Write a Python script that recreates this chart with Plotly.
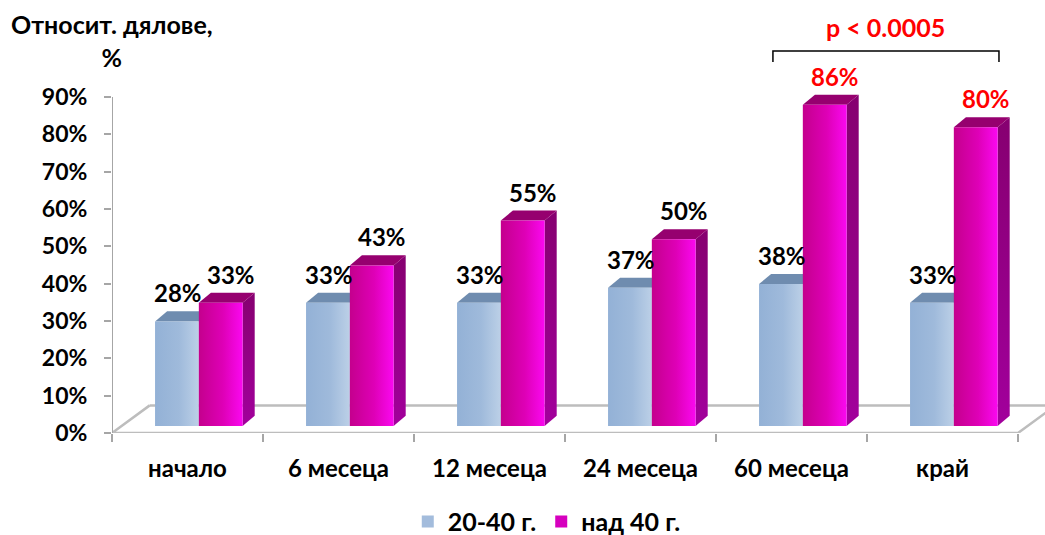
import plotly.graph_objects as go

# ---------------- data ----------------
categories = ["начало", "6 месеца", "12 месеца", "24 месеца", "60 месеца", "край"]
group_young = [28, 33, 33, 37, 38, 33]          # 20-40 г.
group_older = [33, 43, 55, 50, 86, 80]          # над 40 г.
series_names = ["20-40 г.", "над 40 г."]
red_label = [False, False, False, False, True, True]
y_tick_values = [0, 10, 20, 30, 40, 50, 60, 70, 80, 90]
y_tick_labels = [f"{v}%" for v in y_tick_values]
p_text = "p < 0.0005"
y_title = "Относит. дялове,<br>%"

# ---------------- geometry / style ----------------
FONT = "Lato"
PX_PER_PCT = 3.733
BASE = 1.9          # bar bases sit slightly into the floor depth
DX, DY = 0.08, 2.7  # bar depth offset (x units, %)
FLOOR_DX, FLOOR_DY = 0.25, 7.4
BAR_SPAN = {0: (-0.215, 0.075), 1: (0.075, 0.365)}
LABEL_DX = {0: -0.06, 1: 0.29}
n = len(categories)

front_scales = {
    0: [[0, "#93B1D6"], [0.55, "#9FBADB"], [1, "#BCD0E7"]],
    1: [[0, "#C4008D"], [0.55, "#DE00B6"], [1, "#FA08F0"]],
}
side_scales = {
    0: [[0, "#7E9CC0"], [1, "#6F8DB2"]],
    1: [[0, "#A2009C"], [1, "#860070"]],
}
top_colors = {0: "#6F8CAF", 1: "#96006F"}
legend_colors = {0: "#A3BCDC", 1: "#D600BE"}

fig = go.Figure()

# floor
x_left, x_right = -0.5, n - 0.5
fig.add_trace(go.Scatter(
    x=[x_left + FLOOR_DX, x_right + FLOOR_DX, None,
       x_left + FLOOR_DX, x_left, x_right, x_right + FLOOR_DX],
    y=[FLOOR_DY, FLOOR_DY, None, FLOOR_DY, 0, 0, FLOOR_DY],
    mode="lines", line=dict(color="#BDBDBD", width=2.5),
    hoverinfo="skip", showlegend=False))

series = [group_young, group_older]
for i in range(n):
    for s in (0, 1):
        v = series[s][i]
        x0 = i + BAR_SPAN[s][0]
        x1 = i + BAR_SPAN[s][1]
        b = BASE
        t = BASE + v
        # side face
        fig.add_trace(go.Scatter(
            x=[x1, x1 + DX, x1 + DX, x1, x1], y=[b, b + DY, t + DY, t, b],
            fill="toself", mode="lines", line=dict(width=0),
            fillgradient=dict(type="vertical", colorscale=side_scales[s]),
            hoverinfo="skip", showlegend=False))
        # top face
        fig.add_trace(go.Scatter(
            x=[x0, x1, x1 + DX, x0 + DX, x0], y=[t, t, t + DY, t + DY, t],
            fill="toself", mode="lines", line=dict(width=0),
            fillcolor=top_colors[s], hoverinfo="skip", showlegend=False))
        # front face
        fig.add_trace(go.Scatter(
            x=[x0, x1, x1, x0, x0], y=[b, b, t, t, b],
            fill="toself", mode="lines", line=dict(width=0),
            fillgradient=dict(type="horizontal", colorscale=front_scales[s]),
            hoverinfo="skip", showlegend=False))
        fig.add_annotation(
            x=i + LABEL_DX[s], y=t + DY, yanchor="bottom", yshift=2,
            text=f"{v}%", showarrow=False,
            font=dict(family=FONT, size=24, weight="bold",
                      color="#FF0000" if (s == 1 and red_label[i]) else "#000000"))

# legend entries
for s in (0, 1):
    fig.add_trace(go.Scatter(
        x=[None], y=[None], mode="markers", name=series_names[s],
        marker=dict(symbol="square", size=16, color=legend_colors[s])))

# y axis line (0..90)
fig.add_shape(type="line", xref="x", yref="y", x0=x_left, x1=x_left,
              y0=0, y1=y_tick_values[-1], line=dict(color="#A6A6A6", width=2))

# significance bracket
bx0, bx1 = 4 - 0.123, 5 + 0.374
fig.add_shape(type="path", xref="x", yref="y",
              path=f"M{bx0},99.4 L{bx0},102.3 L{bx1},102.3 L{bx1},99.4",
              line=dict(color="#000000", width=1.5))
fig.add_annotation(x=(bx0 + bx1) / 2, y=108.8, text=p_text, showarrow=False,
                   font=dict(family=FONT, size=25, weight="bold", color="#FF0000"))

# y title
fig.add_annotation(x=x_left, y=105.2, text=y_title, showarrow=False,
                   xanchor="center", yanchor="middle",
                   font=dict(family=FONT, size=25, weight="bold", color="#000000"))

fig.update_layout(
    width=1045, height=535,
    margin=dict(l=112, r=0, t=0, b=102, autoexpand=False),
    plot_bgcolor="white", paper_bgcolor="white",
    showlegend=True,
    legend=dict(orientation="h", x=0.466, xanchor="center", y=-0.205, yanchor="middle",
                font=dict(family=FONT, size=25, weight="bold", color="#000000"),
                itemsizing="constant", itemwidth=30),
    xaxis=dict(range=[x_left, x_left + 933 / 151], showgrid=False, zeroline=False,
               showline=False, tickmode="array", tickvals=list(range(n)), ticktext=categories,
               ticks="", ticklabelstandoff=19,
               tickfont=dict(family=FONT, size=24, weight="bold", color="#000000"),
               minor=dict(tickmode="array", tickvals=[k - 0.5 for k in range(n + 1)],
                          ticks="outside", ticklen=8, tickcolor="#A6A6A6", tickwidth=2,
                          showgrid=False)),
    yaxis=dict(range=[0, 433 / PX_PER_PCT], showgrid=False, zeroline=False, showline=False,
               tickmode="array", tickvals=y_tick_values, ticktext=y_tick_labels,
               ticks="outside", ticklen=7, tickcolor="#A6A6A6", tickwidth=2,
               ticklabelstandoff=12,
               tickfont=dict(family=FONT, size=23, weight="bold", color="#000000")),
)

fig.write_html("out.html")
